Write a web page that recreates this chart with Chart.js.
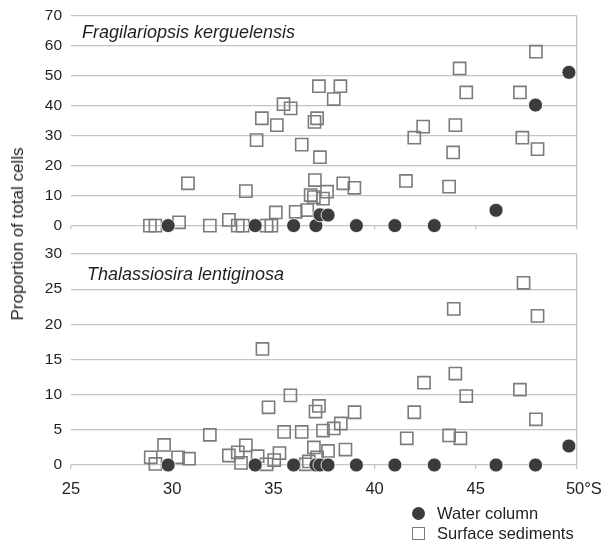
<!DOCTYPE html>
<html lang="en">
<head>
<meta charset="UTF-8">
<title>Diatom proportions by latitude</title>
<script src="https://cdn.jsdelivr.net/npm/chart.js"></script>
<style>
  html, body { margin: 0; padding: 0; background: #fff; }
  #wrap { position: relative; width: 604px; height: 544px; font-family: "Liberation Sans", Arial, sans-serif; color: #231f20; }
  .box { position: absolute; left: 0; width: 604px; }
  .title { position: absolute; font-style: italic; font-size: 18px; line-height: 20px; white-space: nowrap; }
  #ylab { position: absolute; left: 18px; top: 234px; font-size: 17px; line-height: 20px; white-space: nowrap;
          transform: translate(-50%, -50%) rotate(-90deg); }
  .leg { position: absolute; left: 437px; font-size: 16.5px; line-height: 20px; white-space: nowrap; }
  .mk { position: absolute; box-sizing: border-box; }
</style>
</head>
<body>
<div id="wrap">
  <div class="box" style="top:0;height:240px"><canvas id="topChart"></canvas></div>
  <div class="box" style="top:240px;height:270px"><canvas id="bottomChart"></canvas></div>
  <div class="title" style="left:82px;top:22px">Fragilariopsis kerguelensis</div>
  <div class="title" style="left:87px;top:264px">Thalassiosira lentiginosa</div>
  <div id="ylab">Proportion of total cells</div>
  <div class="mk" style="left:411.5px;top:506.5px;width:13px;height:13px;border-radius:50%;background:#3b3b3b"></div>
  <div class="leg" style="top:503px">Water column</div>
  <div class="mk" style="left:412px;top:527px;width:13px;height:13px;border:1.6px solid #7b7b7b"></div>
  <div class="leg" style="top:523px">Surface sediments</div>
</div>

<script>
// latitude (°S) of water column stations
const waterLat = [29.8, 34.1, 36.0, 37.1, 37.3, 37.7, 39.1, 41.0, 42.95, 46.0, 47.95, 49.6];
const fkWater = [0, 0, 0, 0, 3.6, 3.5, 0, 0, 0, 5.1, 40.2, 51.1];
const tlWater = [0, 0, 0, 0, 0, 0, 0, 0, 0, 0, 0, 2.7];

// surface sediments, Fragilariopsis kerguelensis
const fkSedLat = [28.9, 29.17, 30.34, 30.78, 31.86, 32.8, 33.24, 33.48, 33.64, 34.17, 34.43, 34.66, 34.9, 35.12, 35.17,
  35.5, 35.85, 36.1, 36.4, 36.67, 36.84, 37.0, 37.05, 37.03, 37.16, 37.25, 37.3, 37.45, 37.65, 37.98,
  38.31, 38.45, 39.0, 41.55, 41.96, 42.4, 43.68, 43.88, 43.99, 44.2, 44.53, 47.18, 47.3, 47.97, 48.05];
const fkSed = [0, 0, 1.1, 14.1, 0, 1.9, 0, 0, 11.5, 28.5, 35.8, 0, 0, 4.4, 33.5,
  40.5, 39.1, 4.6, 27.0, 5.2, 10.2, 9.5, 15.2, 34.6, 35.8, 46.5, 22.8, 9.0, 11.3, 42.2,
  46.5, 14.1, 12.6, 14.9, 29.3, 33.0, 13.0, 24.4, 33.5, 52.4, 44.4, 44.4, 29.3, 58.0, 25.5];

// surface sediments, Thalassiosira lentiginosa
const tlSedLat = [28.94, 29.17, 29.6, 30.29, 30.83, 31.86, 32.8, 33.24, 33.64, 33.4, 34.22, 34.66, 34.46, 34.76, 35.04,
  35.3, 35.53, 35.84, 36.4, 36.6, 36.75, 37.0, 37.08, 37.16, 37.25, 37.45, 37.7, 37.98, 38.33, 38.56,
  39.01, 41.59, 41.96, 42.44, 43.68, 43.91, 43.99, 44.24, 44.53, 47.18, 47.36, 47.97, 48.05];
const tlSed = [1.1, 0.15, 2.85, 1.1, 0.9, 4.3, 1.35, 1.8, 2.8, 0.3, 1.25, 0.1, 16.5, 8.2, 0.7,
  1.7, 4.7, 9.9, 4.7, 0.1, 0.5, 2.5, 7.6, 1.1, 8.4, 4.9, 2.0, 5.2, 5.9, 2.2,
  7.5, 3.8, 7.5, 11.7, 4.2, 22.2, 13.0, 3.8, 9.8, 10.7, 25.9, 6.5, 21.2];

const xTicks = [25, 30, 35, 40, 45, 50];
const xTickLabels = ['25', '30', '35', '40', '45', '   50°S'];
const fkTicks = [0, 10, 20, 30, 40, 50, 60, 70];
const tlTicks = [0, 5, 10, 15, 20, 25, 30];

const gridColor = '#c4c4c4';
Chart.defaults.font.family = '"Liberation Sans", Arial, sans-serif';
Chart.defaults.font.size = 16;
Chart.defaults.color = '#231f20';

const toPoints = (xs, ys) => xs.map((x, i) => ({ x: x, y: ys[i] }));

const makeChart = (id, water, sedLat, sed, yTicks, showLabels, pad, xHeight) => {
  return new Chart(document.getElementById(id), {
    type: 'scatter',
    data: {
      datasets: [{
        label: 'Water column',
        data: toPoints(waterLat, water),
        pointStyle: 'circle',
        pointRadius: 7,
        backgroundColor: '#3b3b3b',
        borderColor: '#ffffff',
        borderWidth: 0.8,
        clip: false
      }, {
        label: 'Surface sediments',
        data: toPoints(sedLat, sed),
        pointStyle: 'rect',
        pointRadius: 8.6,
        backgroundColor: 'rgba(0,0,0,0)',
        borderColor: '#7b7b7b',
        borderWidth: 1.6,
        clip: false
      }]
    },
    options: {
      responsive: true,
      maintainAspectRatio: false,
      animation: false,
      events: [],
      layout: { padding: pad },
      plugins: { legend: { display: false }, tooltip: { enabled: false } },
      scales: {
        x: {
          type: 'linear',
          min: xTicks[0],
          max: xTicks[xTicks.length - 1],
          afterBuildTicks: (s) => { s.ticks = xTicks.map(v => ({ value: v })); },
          afterFit: (s) => { s.height = xHeight; s.paddingLeft = 0; s.paddingRight = 0; },
          border: { display: false },
          grid: {
            // only the right-hand frame line is drawn inside the plot
            color: (c) => (c.tick && c.tick.value === 50 ? gridColor : 'rgba(0,0,0,0)'),
            tickColor: gridColor,
            lineWidth: 1.3,
            tickLength: 4
          },
          ticks: {
            display: showLabels,
            padding: 11,
            font: { size: 16.5 },
            maxRotation: 0,
            callback: (v) => xTickLabels[xTicks.indexOf(v)]
          }
        },
        y: {
          min: yTicks[0],
          max: yTicks[yTicks.length - 1],
          afterBuildTicks: (s) => { s.ticks = yTicks.map(v => ({ value: v })); },
          afterFit: (s) => { s.width = 71; s.paddingTop = 0; s.paddingBottom = 0; },
          border: { display: false },
          grid: { color: gridColor, lineWidth: 1.3, drawTicks: false },
          ticks: { padding: 9, font: { size: 15.5 } }
        }
      }
    }
  });
};

makeChart('topChart', fkWater, fkSedLat, fkSed, fkTicks, false,
  { top: 15.7, right: 27, bottom: 0, left: 0 }, 14.4);
makeChart('bottomChart', tlWater, tlSedLat, tlSed, tlTicks, true,
  { top: 14, right: 27, bottom: 0, left: 0 }, 45);
</script>
</body>
</html>
